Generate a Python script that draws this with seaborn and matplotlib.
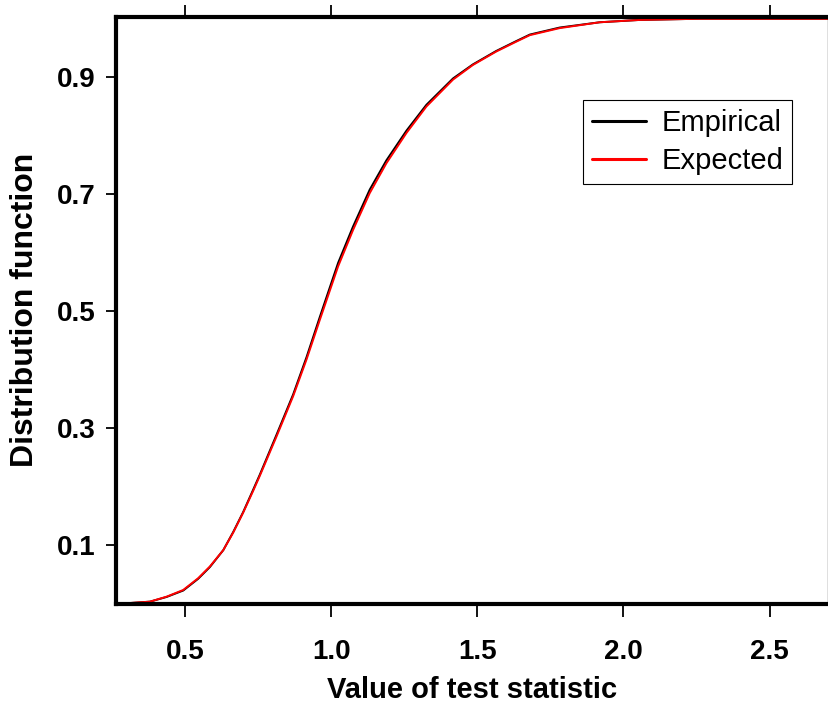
import matplotlib
matplotlib.use("Agg")
import matplotlib.pyplot as plt
from matplotlib.lines import Line2D
import seaborn as sns
import pandas as pd

# Data
x_vals = [0.264, 0.380, 0.437, 0.494, 0.545, 0.585, 0.631, 0.665, 0.699, 0.733,
          0.756, 0.813, 0.870, 0.916, 0.961, 1.024, 1.075, 1.132, 1.189, 1.258,
          1.326, 1.417, 1.485, 1.565, 1.634, 1.680, 1.782, 1.919, 2.056, 2.261,
          2.700]
expected = [0.000, 0.004, 0.0125, 0.024, 0.044, 0.064, 0.092, 0.122, 0.156, 0.193,
            0.219, 0.286, 0.355, 0.418, 0.485, 0.577, 0.639, 0.702, 0.753, 0.805,
            0.850, 0.896, 0.921, 0.944, 0.961, 0.972, 0.984, 0.994, 0.998, 1.000,
            1.000]
empirical = [0.000, 0.004, 0.012, 0.023, 0.043, 0.063, 0.092, 0.123, 0.157, 0.195,
             0.221, 0.289, 0.358, 0.422, 0.490, 0.583, 0.645, 0.708, 0.758, 0.809,
             0.853, 0.898, 0.922, 0.945, 0.962, 0.973, 0.985, 0.994, 0.998, 1.000,
             1.000]
series_names = ["Empirical", "Expected"]
series_colors = ["black", "red"]
x_ticks = [0.5, 1.0, 1.5, 2.0, 2.5]
x_ticklabels = ["0.5", "1.0", "1.5", "2.0", "2.5"]
y_ticks = [0.1, 0.3, 0.5, 0.7, 0.9]
y_ticklabels = ["0.1", "0.3", "0.5", "0.7", "0.9"]

sns.set_style("white")
plt.rcParams["font.family"] = ["Liberation Sans", "DejaVu Sans"]
plt.rcParams["text.color"] = "black"
plt.rcParams["axes.labelcolor"] = "black"
plt.rcParams["xtick.color"] = "black"
plt.rcParams["ytick.color"] = "black"

df = pd.DataFrame({
    "x": x_vals + x_vals,
    "y": empirical + expected,
    "series": [series_names[0]] * len(x_vals) + [series_names[1]] * len(x_vals),
})

fig = plt.figure(figsize=(8.29, 7.05), dpi=100)
ax = fig.add_axes([116 / 829, 101 / 705, 712 / 829, 587 / 705])

sns.lineplot(data=df, x="x", y="y", hue="series", hue_order=series_names,
             palette=series_colors, linewidth=1.4, ax=ax, legend=False,
             estimator=None, sort=True)

ax.set_xlim(0.264, 2.70)
ax.set_ylim(0, 1.003)
ax.set_xticks(x_ticks)
ax.set_xticklabels(x_ticklabels, fontsize=20, fontweight="bold")
ax.set_yticks(y_ticks)
ax.set_yticklabels(y_ticklabels, fontsize=20, fontweight="bold")

ax.tick_params(axis="x", direction="out", length=9, width=1.3, pad=16,
               top=True, bottom=True, labeltop=False, colors="black")
ax.tick_params(axis="y", direction="out", length=7, width=1.3, pad=8,
               left=True, right=False, colors="black")

for side in ["left", "bottom", "top"]:
    ax.spines[side].set_linewidth(3.0)
    ax.spines[side].set_color("black")
ax.spines["right"].set_linewidth(0.9)
ax.spines["right"].set_color("black")

ax.set_xlabel("Value of test statistic", fontsize=21, fontweight="bold",
              color="black", labelpad=8)
ax.set_ylabel("Distribution function", fontsize=23, fontweight="bold",
              color="black")
ax.yaxis.set_label_coords(-(116 - 40) / 712, (604 - 310) / 587)

handles = [Line2D([], [], color=c, linewidth=2.2) for c in series_colors]
leg = ax.legend(handles, series_names, loc="upper left",
                bbox_to_anchor=((583 - 116) / 712, (604 - 100) / 587),
                prop={"family": ["Liberation Sans", "DejaVu Sans"], "size": 21},
                frameon=True, fancybox=False, edgecolor="black", framealpha=1,
                handlelength=1.85, handletextpad=0.55, labelspacing=0.35,
                borderpad=0.3, borderaxespad=0)
leg.get_frame().set_linewidth(0.8)
for t in leg.get_texts():
    t.set_color("black")

fig.savefig("out.png", dpi=100)
